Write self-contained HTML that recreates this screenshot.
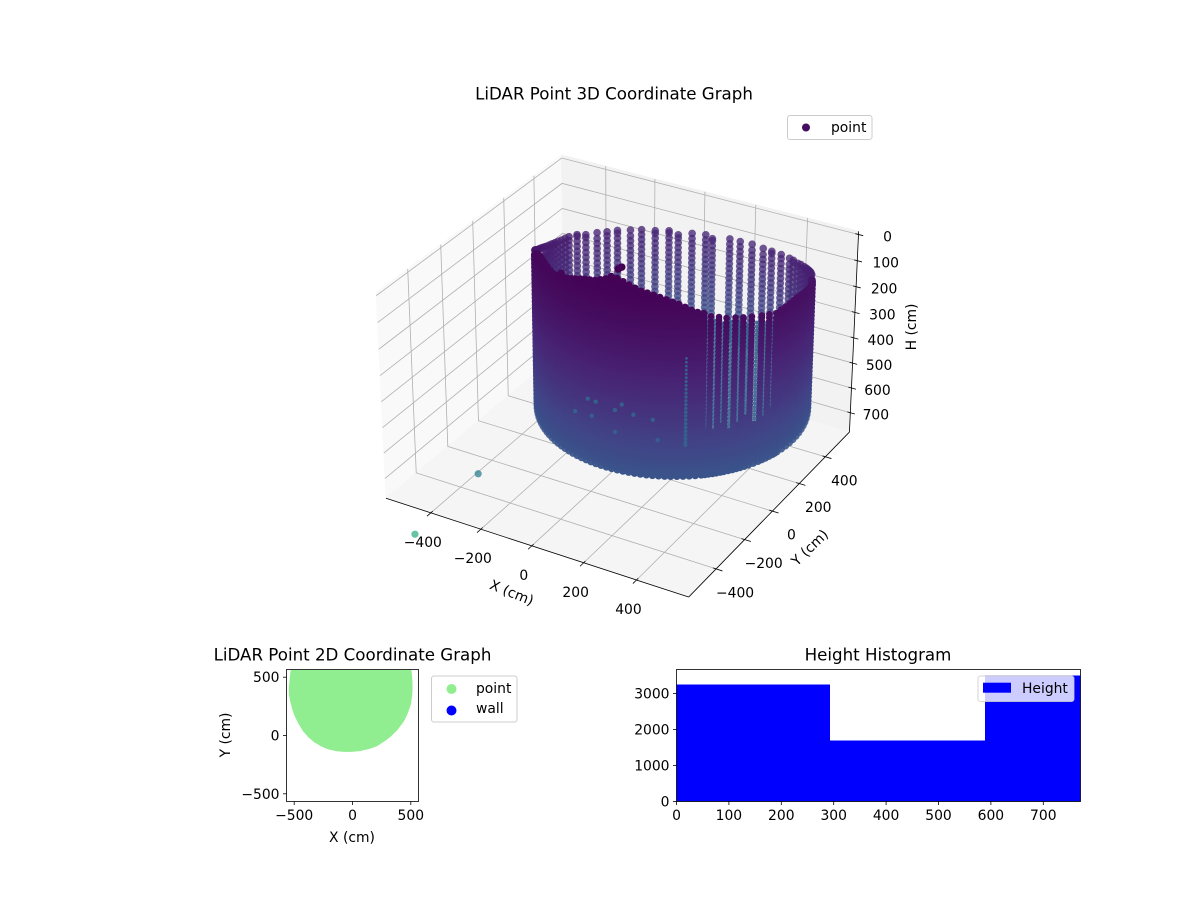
<!DOCTYPE html>
<html>
<head>
<meta charset="utf-8">
<title>LiDAR Point Graphs</title>
<style>
html,body{margin:0;padding:0;background:#fff;}
svg{display:block;}
text{font-family:"DejaVu Sans","Liberation Sans",sans-serif;font-size:13.89px;fill:#000;}
.ttl{font-size:16.67px;text-anchor:middle;}
</style>
</head>
<body>
<svg id="fig" xmlns="http://www.w3.org/2000/svg" width="1200" height="900" viewBox="0 0 1200 900">
  <rect x="0" y="0" width="1200" height="900" fill="#fff"/>
  <g id="ax3d"></g>
  <g id="cloud"></g>
  <text class="ttl" x="614" y="99.5">LiDAR Point 3D Coordinate Graph</text>
  <text text-anchor="middle" transform="translate(510,597) rotate(22)">X (cm)</text>
  <text text-anchor="middle" transform="translate(813,551) rotate(-44)">Y (cm)</text>
  <text text-anchor="middle" transform="translate(916,327) rotate(-90)">H (cm)</text>
  <g>
    <rect x="787.5" y="115.5" width="84.5" height="24" rx="2.5" fill="#fff" fill-opacity=".8" stroke="#ccc" stroke-width="1"/>
    <circle cx="806" cy="127.5" r="4" fill="#440f62"/>
    <text x="831" y="132">point</text>
  </g>

  <g id="ax2d"></g>
  <text class="ttl" x="352.5" y="660.5">LiDAR Point 2D Coordinate Graph</text>
  <text text-anchor="middle" x="352" y="842">X (cm)</text>
  <text text-anchor="middle" transform="translate(230,735) rotate(-90)">Y (cm)</text>
  <g>
    <rect x="431.5" y="676" width="85.5" height="46" rx="2.5" fill="#fff" stroke="#ccc" stroke-width="1"/>
    <circle cx="451.5" cy="689" r="5" fill="#90ee90"/>
    <text x="476" y="693">point</text>
    <circle cx="451.5" cy="710.5" r="5" fill="#0000ff"/>
    <text x="476" y="713">wall</text>
  </g>

  <g id="axh"></g>
  <text class="ttl" x="878" y="660.5">Height Histogram</text>
  <g>
    <rect x="978" y="676" width="96" height="25.5" rx="2.5" fill="#fff" fill-opacity=".8" stroke="#ccc" stroke-opacity=".8" stroke-width="1"/>
    <rect x="983" y="682.7" width="28" height="10" fill="#0000ff"/>
    <text x="1022" y="693">Height</text>
  </g>
</svg>
<script>
// ---------- 3D chart data ----------
const xTicks3d = [-400, -200, 0, 200, 400];
const yTicks3d = [-400, -200, 0, 200, 400];
const hTicks3d = [0, 100, 200, 300, 400, 500, 600, 700];
const xLimits3d = [-582, 594];
const yLimits3d = [-586, 590];
const hLimits3d = [-12, 779];
const wallCenter = [-55, 470];
const wallRadius = [486];

// Near side of the wall: bearing (deg, 0 = screen right, 90 = toward viewer) and top height
const nearAngles = [0,3,6,9,12,15,18,21,24,27,30,33,36,39,42,45,49,53,58,62,65.6,69.5,72.7,76,79,81.5,84,86.5,89,91.5,94,96.5,99,101.5,104,106.5,109,111.5,114,116.5,119,121.5,124,126.5,129,131.5,134,136.5,139,141.5,144,146.5,149,151.5,154,156.5,159,161.5,164,166.5,169,171.5,174,176.5,179];
const nearTops = [292,285,279,273,266,258,250,245,240,235,231,230,231,232,233,235,226,219,210,204,197,192,183,176,163,157,147,135,123,115,107,99,92,86,81,73,65,56,49,46,60,69,78,83,87,94,101,108,115,121,127,132,134,132,129,126,124,123,126,132,142,153,166,180,188];
const nearRings = [15,30,45,60,75,90,105,120,135,150,165,180,195,210,225,240,255,270,285,300,315,330,345,360,375,390,405,420,435,450,465,480,495,510,525,540,555,570,585,600,615,630,645,660,675,690,705,720,735,750,765,780,795];

// Columns that merge between the scan lines low on the wall
const lowerFillAngles = [43.5,47,51,55.5,60,63.8,67.5,71,74.3,77.5];
const lowerFillTops = [600,610,630,640,600,620,640,610,630,620];

// Thin see-through seams between scan lines
const seamAngles = [47,51,55.5,60,63.8,67.5,71,74.3,77.5];
const seamTops = [255,245,235,225,215,205,195,190,180];
const lowSeamAngle = [85.7];
const lowSeamHeights = [330,345,360,375,390,405,420,435,450,465,480,495,510,525,540,555,570,585,600,615,630,645,660,670];

// Darker blotches where returns overlap near the base of the wall
const blotchAngles = [126,115,115,107,99,124,135,97,112,128];
const blotchHeights = [609,558,645,562,573,547,620,652,530,547];

// Far side of the wall: sparse scan columns seen over the near side
const farAngles = [181,183,184.5,186,188,190,192.5,195,197.5,200,202.5,205,207.5,210,212.5,215,217.5,220,225,230,236,241,246,252,257,263,269,273,279,285,288,296,301,307,313,318,324,330,333,337,340,344,347,350,352,355,358];
const farTops = [180,188,195,203,210,218,226,234,242,250,257,263,268,273,277,281,283,285,293,308,316,324,328,336,340,349,351,367,359,359,371,359,359,355,355,351,343,336,332,328,320,312,305,298,293,285,280];
const farRings = [280,300,320,340,360,380,400,420,440,460,480,500,520,540,560,580,600,620,640,660,680,700,720,740,760,780];

// Loose returns at the wall top
const fragmentAngles = [113.5, 112, 143];
const fragmentHeights = [12, 2, 110];

// Outlying returns beyond the floor
const outlierX = [-774, -1288];
const outlierY = [280, 590];
const outlierH = [1212, 1824];
const outlierColorValue = [0.42, 0.62];

// ---------- 2D chart data ----------
const xTicks2d = [-500, 0, 500];
const yTicks2d = [-500, 0, 500];
const xLimits2d = [-566, 566];
const yLimits2d = [-566, 566];
const discX = [-525,-540,-538,-529,-512,-491,-458,-420,-375,-320,-265,-206,-140,-77,-5,66,140,209,270,320,375,437,470,494,505,509,507,500];
const discY = [556,410,350,297,232,170,105,42,-10,-56,-88,-113,-128,-134,-134,-127,-110,-85,-45,-8,45,127,197,268,340,410,480,556];

// ---------- Histogram data ----------
const binEdges = [0, 293, 589, 771];
const binCounts = [3250, 1694, 3500];
const xTicksHist = [0, 100, 200, 300, 400, 500, 600, 700];
const yTicksHist = [0, 1000, 2000, 3000];
const xLimitsHist = [0, 771];
const yLimitsHist = [0, 3667];

const NS = 'http://www.w3.org/2000/svg';
function make(tag, parent, props) {
  const e = document.createElementNS(NS, tag);
  for (const k in props) e.setAttribute(k, props[k]);
  parent.appendChild(e);
  return e;
}
const fmt = v => String(v).replace('-', '\u2212');

// ---------- 3D projection ----------
const HALF = 0.5953, Z_TOP = 0.363, Z_FLOOR = -0.446, SCALE = 2912, CX = 622, CY = 354.5;
const U = [0.866, 0.5, 0], V = [-0.25, 0.433, 0.866], N = [0.433, -0.75, 0.5];
function projectBox(a, b, c) {
  const p = [a * HALF, b * HALF, c];
  const dot = q => q[0]*p[0] + q[1]*p[1] + q[2]*p[2];
  const d = 10 - dot(N);
  return { x: CX + SCALE * dot(U) / d, y: CY - SCALE * dot(V) / d, depth: d };
}
const boxA = x => -1 + 2 * (x - xLimits3d[0]) / (xLimits3d[1] - xLimits3d[0]);
const boxB = y => -1 + 2 * (y - yLimits3d[0]) / (yLimits3d[1] - yLimits3d[0]);
const boxC = h => Z_TOP - (h - hLimits3d[0]) / (hLimits3d[1] - hLimits3d[0]) * (Z_TOP - Z_FLOOR);
const project3d = (x, y, h) => projectBox(boxA(x), boxB(y), boxC(h));
const pts = list => list.map(q => q.x.toFixed(2) + ',' + q.y.toFixed(2)).join(' ');

const ax3d = document.getElementById('ax3d');
function pane(name, corners, fill) {
  const e = make('polygon', ax3d, { points: pts(corners), fill: fill, stroke: fill, 'stroke-width': 1 });
  
  
}
pane('left-wall-pane', [projectBox(-1,-1,Z_FLOOR), projectBox(-1,1,Z_FLOOR), projectBox(-1,1,Z_TOP), projectBox(-1,-1,Z_TOP)], '#f9f9f9');
pane('back-wall-pane', [projectBox(-1,1,Z_FLOOR), projectBox(1,1,Z_FLOOR), projectBox(1,1,Z_TOP), projectBox(-1,1,Z_TOP)], '#f2f2f2');
pane('floor-pane', [projectBox(-1,-1,Z_FLOOR), projectBox(1,-1,Z_FLOOR), projectBox(1,1,Z_FLOOR), projectBox(-1,1,Z_FLOOR)], '#f5f5f5');

function grid(name, list) {
  const e = make('polyline', ax3d, { points: pts(list), fill: 'none', stroke: '#b0b0b0', 'stroke-width': 0.8 });
  
  
}
function tickMark(name, p, q) {
  const e = make('line', ax3d, { x1: p.x, y1: p.y, x2: q.x, y2: q.y, stroke: '#000', 'stroke-width': 0.8 });
  
  
}
function tickText(name, x, y, s) {
  const e = make('text', ax3d, { x: x, y: y, 'text-anchor': 'middle' });
  e.textContent = s;
  
  
}
xTicks3d.forEach(v => {
  const a = boxA(v);
  grid('x-gridline', [projectBox(a,-1,Z_FLOOR), projectBox(a,1,Z_FLOOR), projectBox(a,1,Z_TOP)]);
  const p = projectBox(a,-1,Z_FLOOR);
  tickMark('x-tick', projectBox(a,-0.98,Z_FLOOR), projectBox(a,-1.04,Z_FLOOR));
  tickText('x-tick-label', p.x - 8, p.y + 34, fmt(v));
});
yTicks3d.forEach(v => {
  const b = boxB(v);
  grid('y-gridline', [projectBox(1,b,Z_FLOOR), projectBox(-1,b,Z_FLOOR), projectBox(-1,b,Z_TOP)]);
  const p = projectBox(1,b,Z_FLOOR);
  tickMark('y-tick', projectBox(0.98,b,Z_FLOOR), projectBox(1.04,b,Z_FLOOR));
  tickText('y-tick-label', p.x + 19, p.y + 28.5, fmt(v));
});
hTicks3d.forEach(v => {
  const c = boxC(v);
  grid('h-gridline', [projectBox(-1,-1,c), projectBox(-1,1,c), projectBox(1,1,c)]);
  const p = projectBox(1,1,c);
  tickMark('h-tick', projectBox(0.98,1,c), projectBox(1.03,1,c));
  tickText('h-tick-label', p.x + 29 - v * 0.005, p.y + 7, fmt(v));
});
function axisLine(name, p, q) {
  const e = make('line', ax3d, { x1: p.x, y1: p.y, x2: q.x, y2: q.y, stroke: '#000', 'stroke-width': 0.8 });
  
  
}
axisLine('x-axis-line', projectBox(-1,-1,Z_FLOOR), projectBox(1,-1,Z_FLOOR));
axisLine('y-axis-line', projectBox(1,-1,Z_FLOOR), projectBox(1,1,Z_FLOOR));
axisLine('h-axis-line', projectBox(1,1,Z_FLOOR), projectBox(1,1,Z_TOP));

// ---------- Colour map ----------
const viridisStops = [[68,1,84],[72,36,117],[65,68,135],[53,95,141],[42,120,142],[33,145,140],[34,168,132],[68,191,112],[122,209,81],[189,223,38],[253,231,37]];
function viridis(t) {
  const k = Math.max(0, Math.min(0.9999, t)) * 10, i = Math.floor(k), f = k - i;
  const a = viridisStops[i], b = viridisStops[i + 1];
  return 'rgb(' + [0,1,2].map(j => Math.round(a[j] + (b[j] - a[j]) * f)).join(',') + ')';
}
const heightValue = h => Math.pow(Math.max(h, 0) / 775, 1.5) * 0.25;

// ---------- Point cloud ----------
function wallPoint(angle, h, boost) {
  const r = angle * Math.PI / 180, c = Math.cos(r), s = Math.sin(r);
  const x = wallCenter[0] + wallRadius[0] * (c * 0.866 + s * 0.5);
  const y = wallCenter[1] + wallRadius[0] * (c * 0.5 - s * 0.866);
  const q = project3d(x, y, h);
  const slim = angle > 44 && angle < 78 && angle < 180 && h < 640;
  return { x: q.x, y: q.y, depth: q.depth, color: viridis(heightValue(h) + boost), radius: slim ? 3.3 : 3.8 };
}
const cloudMarks = [];
function addColumn(angles, tops, rings, boost) {
  angles.forEach((angle, i) => {
    cloudMarks.push(wallPoint(angle, tops[i], boost));
    rings.forEach(h => { if (h > tops[i] + 5) cloudMarks.push(wallPoint(angle, h, boost)); });
  });
}
addColumn(farAngles, farTops, farRings, 0.03);
addColumn(nearAngles, nearTops, nearRings, 0);
addColumn(lowerFillAngles, lowerFillTops, nearRings, 0);
seamAngles.forEach((angle, i) => {
  nearRings.forEach(h => {
    if (h > seamTops[i] && h < 640) {
      const m = wallPoint(angle, h, 0);
      m.color = viridis(0.32);
      m.radius = 2;
      m.depth = 10.35;
      m.fixedAlpha = 0.9;
      cloudMarks.push(m);
    }
  });
});
lowSeamHeights.forEach(h => {
  const m = wallPoint(lowSeamAngle[0], h, 0);
  m.color = viridis(0.3);
  m.radius = 0.7 + h * 0.002;
  m.depth = 1;
  cloudMarks.push(m);
});
blotchAngles.forEach((angle, i) => {
  const m = wallPoint(angle, blotchHeights[i], 0);
  m.color = viridis(0.3);
  m.radius = 2.2;
  m.depth = 1;
  cloudMarks.push(m);
});
fragmentAngles.forEach((angle, i) => cloudMarks.push(wallPoint(angle, fragmentHeights[i], 0)));
outlierX.forEach((x, i) => {
  const q = project3d(x, outlierY[i], outlierH[i]);
  cloudMarks.push({ x: q.x, y: q.y, depth: 11, color: viridis(outlierColorValue[i]), fixedAlpha: 0.72, radius: 3.6 });
});
cloudMarks.sort((a, b) => b.depth - a.depth);
const cloud = document.getElementById('cloud');
cloudMarks.forEach(m => {
  const alpha = m.fixedAlpha || Math.min(1, Math.max(0.78, 0.85 + (10.45 - m.depth) * 0.6));
  const e = make('circle', cloud, { cx: m.x.toFixed(2), cy: m.y.toFixed(2), r: m.radius, fill: m.color, 'fill-opacity': alpha.toFixed(2) });
  
  
});

// ---------- Generic 2D axes ----------
function linear(d, r) { return v => r[0] + (v - d[0]) / (d[1] - d[0]) * (r[1] - r[0]); }
function drawTicks(g, prefix, sx, sy, xt, yt, box) {
  xt.forEach(v => {
    const px = sx(v);
    const t = make('line', g, { x1: px, y1: box.b, x2: px, y2: box.b + 3.5, stroke: '#000', 'stroke-width': 0.8 });
    
    
    const l = make('text', g, { x: px, y: box.b + 18.5, 'text-anchor': 'middle' });
    l.textContent = fmt(v);
    
    
  });
  yt.forEach(v => {
    const py = sy(v);
    const t = make('line', g, { x1: box.l - 3.5, y1: py, x2: box.l, y2: py, stroke: '#000', 'stroke-width': 0.8 });
    
    
    const l = make('text', g, { x: box.l - 7, y: py + 5, 'text-anchor': 'end' });
    l.textContent = fmt(v);
    
    
  });
  const f = make('rect', g, { x: box.l, y: box.t, width: box.r - box.l, height: box.b - box.t, fill: 'none', stroke: '#000', 'stroke-width': 0.8 });
  
  
}

// ---------- 2D scatter ----------
const ax2d = document.getElementById('ax2d');
const box2 = { l: 286.5, r: 418.5, t: 669.5, b: 801.5 };
const sx2 = linear(xLimits2d, [box2.l, box2.r]);
const sy2 = linear(yLimits2d, [box2.b, box2.t]);
const defs = make('defs', ax2d, {});
const clip = make('clipPath', defs, { id: 'clip2d' });
make('rect', clip, { x: box2.l, y: box2.t, width: box2.r - box2.l, height: box2.b - box2.t });
const discPts = discX.map((x, i) => sx2(x).toFixed(2) + ',' + sy2(discY[i]).toFixed(2)).join(' ');
const disc = make('polygon', ax2d, { points: discPts, fill: '#90ee90', stroke: '#90ee90', 'stroke-width': 1.5, 'stroke-linejoin': 'round', 'clip-path': 'url(#clip2d)' });


drawTicks(ax2d, 'lidar-2d', sx2, sy2, xTicks2d, yTicks2d, box2);

// ---------- Histogram ----------
const axh = document.getElementById('axh');
const boxH = { l: 676.5, r: 1080.5, t: 669.5, b: 801.5 };
const sxH = linear(xLimitsHist, [boxH.l, boxH.r]);
const syH = linear(yLimitsHist, [boxH.b, boxH.t]);
binCounts.forEach((n, i) => {
  const x0 = sxH(binEdges[i]), x1 = sxH(binEdges[i + 1]), y = syH(n);
  const b = make('rect', axh, { x: x0, y: y, width: x1 - x0, height: boxH.b - y, fill: '#0000ff', 'shape-rendering': 'crispEdges' });
  
  
});
drawTicks(axh, 'histogram', sxH, syH, xTicksHist, yTicksHist, boxH);
</script>
</body>
</html>
